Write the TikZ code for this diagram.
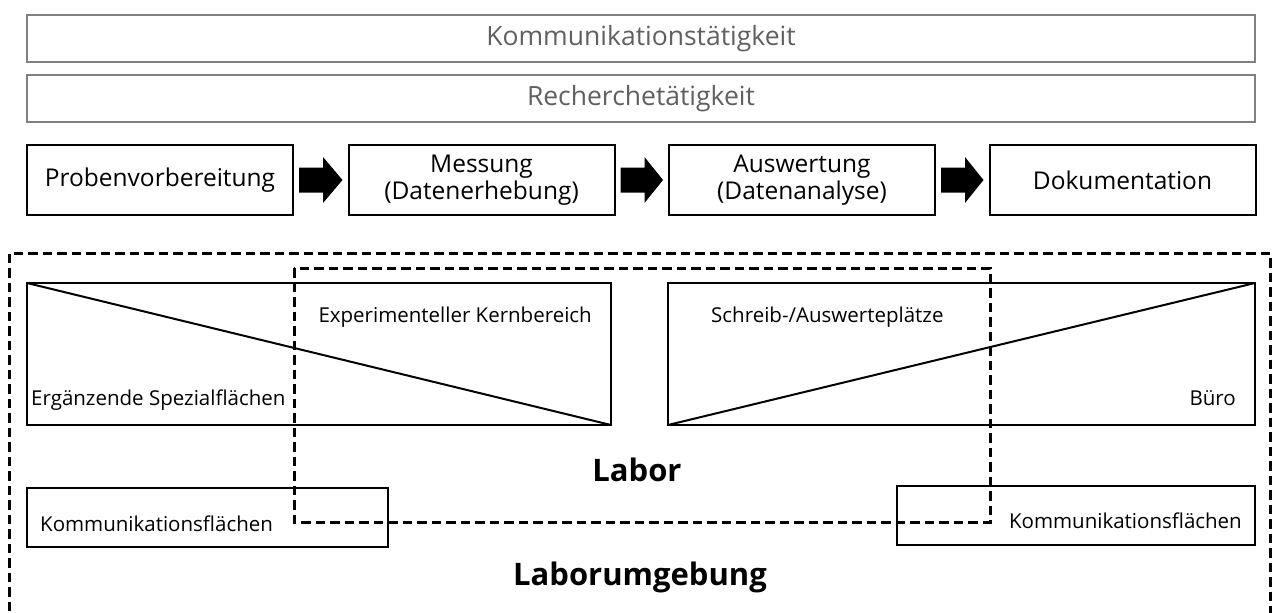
\documentclass[tikz,border=0pt]{standalone}
\usepackage{fontspec}
\setmainfont{Open Sans}
\usetikzlibrary{calc}
\definecolor{barline}{RGB}{128,128,128}
\definecolor{bartext}{RGB}{96,96,96}
\tikzset{
  actbar/.style={draw=barline, line width=2pt, text=bartext, minimum width=1228pt, minimum height=47pt, inner sep=0pt, font=\fontsize{26.5}{30}\selectfont},
  stepbox/.style={draw, line width=2pt, minimum width=266pt, minimum height=70pt, inner sep=0pt, align=center, font=\fontsize{24.5}{27}\selectfont},
  areabox/.style={draw, line width=2pt, inner sep=0pt},
  lbl/.style={inner sep=0pt, font=\fontsize{20.5}{24}\selectfont},
  zone/.style={line width=3pt, dash pattern=on 9.5pt off 5pt},
  zonetitle/.style={inner sep=0pt, font=\bfseries\fontsize{31}{36}\selectfont},
  flowarrow/.style={fill=black}
}
\newcommand{\blockarrow}[2]{%
  \fill[flowarrow] ($(#1.east)+(5,-12.5)$) -- ++(24,0) -- ++(0,-10.5) -- ($(#2.west)+(-5,0)$)
    -- ($(#1.east)+(29,23)$) -- ++(0,-10.5) -- ++(-24,0) -- cycle;}
\begin{document}
\begin{tikzpicture}[x=1pt,y=-1pt]
\useasboundingbox (0,0) rectangle (1277,613);

% activity bars
\node[actbar] (komm) at (641,38.5) {Kommunikationstätigkeit};
\node[actbar] (rech) at (641,98.5) {Recherchetätigkeit};

% process steps
\node[stepbox] (s1) at (160,180) {Probenvorbereitung};
\node[stepbox] (s2) at (481.5,180) {Messung\\(Datenerhebung)};
\node[stepbox] (s3) at (802,180) {Auswertung\\(Datenanalyse)};
\node[stepbox] (s4) at (1122.5,180) {Dokumentation};
\blockarrow{s1}{s2}
\blockarrow{s2}{s3}
\blockarrow{s3}{s4}

% area boxes
\coordinate (la) at (27,283);
\coordinate (lb) at (611,425);
\draw[areabox] (la) rectangle (lb);
\draw[line width=2pt] (la) -- (lb);
\coordinate (ra) at (668,283);
\coordinate (rb) at (1255,425);
\draw[areabox] (ra) rectangle (rb);
\draw[line width=2pt] (ra |- rb) -- (rb |- ra);

\node[lbl, anchor=base east] (kern) at (592,322) {Experimenteller Kernbereich};
\node[lbl, anchor=base west] (spez) at (31,405) {Ergänzende Spezialflächen};
\node[lbl, anchor=base west] (schr) at (711,322) {Schreib-/Auswerteplätze};
\node[lbl, anchor=base east] (buero) at (1236,405) {Büro};

\node[areabox, minimum width=361pt, minimum height=59pt] (kl) at (207.5,517.5) {};
\node[lbl, anchor=base west] at (40,531) {Kommunikationsflächen};
\node[areabox, minimum width=358pt, minimum height=59pt] (kr) at (1076,515.5) {};
\node[lbl, anchor=base east] at (1242,528) {Kommunikationsflächen};

% zones
\draw[zone] (9,640) -- (9,253) -- (1270,253) -- (1270,640);
\draw[zone] (294,268) rectangle (990,522);

\node[zonetitle] (labor) at (637,470) {Labor};
\node[zonetitle] (umg) at (640,577) {Laborumgebung};
\end{tikzpicture}
\end{document}
